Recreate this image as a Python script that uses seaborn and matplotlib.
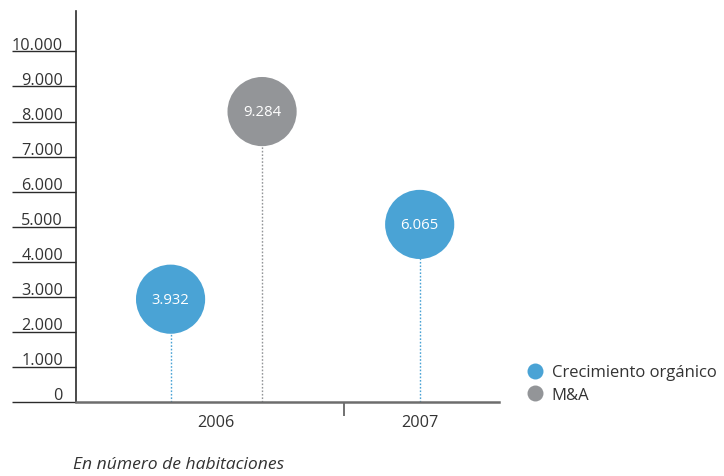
import matplotlib
matplotlib.use("Agg")
import matplotlib.pyplot as plt
from matplotlib.lines import Line2D
import seaborn as sns
import pandas as pd
import numpy as np

# ---- data ----
years = ["2006", "2007"]
series = ["Crecimiento orgánico", "M&A"]
organico = [3932, 6065]
ma = [9284, None]
value_labels_org = ["3.932", "6.065"]
value_labels_ma = ["9.284", None]
tick_values = [0, 1000, 2000, 3000, 4000, 5000, 6000, 7000, 8000, 9000, 10000]
tick_labels = ["0", "1.000", "2.000", "3.000", "4.000", "5.000", "6.000",
               "7.000", "8.000", "9.000", "10.000"]
caption = "En número de habitaciones"

BLUE = "#4aa3d5"
GRAY = "#939598"
TXT = "#333333"

sns.set_theme(style="white")
plt.rcParams["font.family"] = ["Open Sans", "DejaVu Sans"]

# build table
rows = []
for i, y in enumerate(years):
    if organico[i] is not None:
        rows.append(dict(year=y, gi=i, serie=series[0], valor=organico[i], lab=value_labels_org[i]))
    if ma[i] is not None:
        rows.append(dict(year=y, gi=i, serie=series[1], valor=ma[i], lab=value_labels_ma[i]))
df = pd.DataFrame(rows)
counts = df.groupby("gi")["serie"].transform("count")
DODGE = 0.225
df["x"] = df["gi"] + np.where(counts > 1, np.where(df["serie"] == series[0], -DODGE, DODGE), 0.0)

fig = plt.figure(figsize=(7.24, 4.77), dpi=100)
W, H = 724, 477
ax = fig.add_axes([76 / W, (H - 403) / H, (499 - 76) / W, (403 - 12) / H])

OFFSET = 1000  # the printed scale lines sit one step below the plotted scale
ax.set_ylim(OFFSET, OFFSET + (403 - 12) / 35.06 * 1000)
ax.set_xlim(-0.69, 1.39)

palette = {series[0]: BLUE, series[1]: GRAY}
for _, r in df.iterrows():
    ax.vlines(r["x"], OFFSET, r["valor"], colors=palette[r["serie"]],
              linestyles=(0, (1.2, 1.3)), linewidth=1.0, zorder=1)
sns.scatterplot(data=df, x="x", y="valor", hue="serie", palette=palette,
                s=2480, linewidth=0, legend=False, ax=ax, zorder=3, clip_on=False)
for _, r in df.iterrows():
    ax.text(r["x"], r["valor"], r["lab"], color="white", fontsize=10.7,
            ha="center", va="center", zorder=4)

ypos = [v + OFFSET for v in tick_values]
ax.set_yticks(ypos)
ax.set_yticklabels([])
ax.tick_params(axis="y", direction="out", length=64 * 72 / 100, width=1.0,
               color="#2b2b2b", left=True)
for p, lab in zip(ypos, tick_labels):
    ax.annotate(lab, xy=(0, p), xycoords=("axes fraction", "data"),
                xytext=(-13, 2.5), textcoords="offset pixels",
                ha="right", va="baseline", fontsize=11.7, color=TXT)

ax.set_xticks([0.63])
ax.set_xticklabels([])
ax.tick_params(axis="x", which="major", direction="out", length=14 * 0.72,
               width=1.3, color="#666666", bottom=True)
ax.set_xticks([0, 1], minor=True)
ax.set_xticklabels(years, minor=True, fontsize=11.7, color=TXT)
ax.tick_params(axis="x", which="minor", length=0, pad=8.5)
ax.set_xlabel("")
ax.set_ylabel("")

for s in ["top", "right"]:
    ax.spines[s].set_visible(False)
ax.spines["left"].set_color("#2b2b2b")
ax.spines["left"].set_linewidth(1.2)
ax.spines["bottom"].set_color("#6d6d6d")
ax.spines["bottom"].set_linewidth(1.8)

handles = [Line2D([], [], marker="o", linestyle="", markersize=11.5,
                  markerfacecolor=palette[s], markeredgewidth=0) for s in series]
fig.legend(handles, series, loc="center left",
           bbox_to_anchor=(529 / W, 1 - 384.5 / H), frameon=False,
           fontsize=12, handlelength=0.75, handletextpad=0.6,
           labelspacing=0.38, borderpad=0, borderaxespad=0,
           labelcolor=TXT)

fig.text(73 / W, 1 - 465 / H, caption, fontsize=12.6, style="italic",
         color=TXT, ha="left", va="center")

fig.savefig("out.png", dpi=100)
